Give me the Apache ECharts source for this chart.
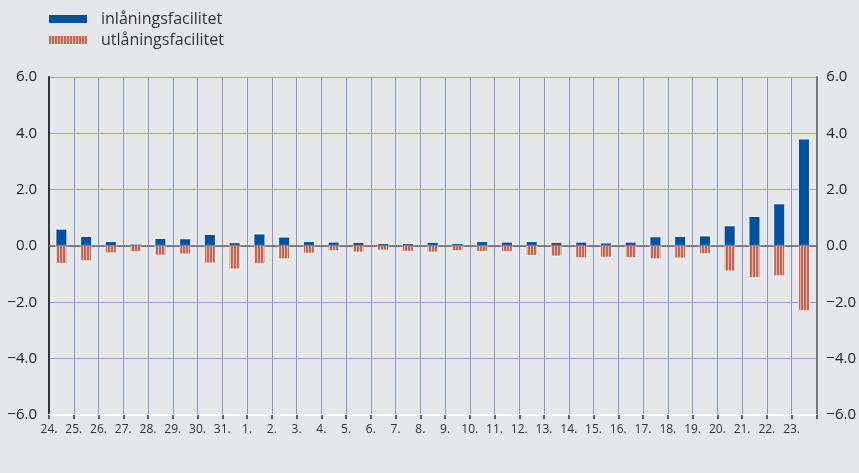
<!DOCTYPE html>
<html><head><meta charset="utf-8">
<script src="https://cdn.jsdelivr.net/npm/echarts@6/dist/echarts.min.js"></script>
<style>html,body{margin:0;padding:0;background:#e6e7e9}#c{width:859px;height:473px}</style>
</head><body><div id="c"></div>
<script>
const categories = ['24.','25.','26.','27.','28.','29.','30.','31.','1.','2.','3.','4.','5.','6.','7.','8.','9.','10.','11.','12.','13.','14.','15.','16.','17.','18.','19.','20.','21.','22.','23.'];
const inlaning = [0.58,0.32,0.14,0.05,0.25,0.24,0.39,0.10,0.41,0.30,0.14,0.12,0.11,0.07,0.07,0.11,0.07,0.14,0.12,0.14,0.11,0.12,0.09,0.12,0.31,0.32,0.34,0.70,1.03,1.48,3.78];
const utlaning = [-0.60,-0.51,-0.23,-0.18,-0.31,-0.27,-0.59,-0.80,-0.61,-0.44,-0.24,-0.15,-0.20,-0.13,-0.17,-0.20,-0.15,-0.18,-0.18,-0.32,-0.34,-0.40,-0.38,-0.39,-0.44,-0.41,-0.26,-0.87,-1.10,-1.04,-2.28];
const seriesNames = ['inlåningsfacilitet','utlåningsfacilitet'];
const yMin = -6, yMax = 6, yStep = 2;

const pc = document.createElement('canvas'); pc.width = 3; pc.height = 4;
const pctx = pc.getContext('2d');
pctx.fillStyle = '#e8b4a3'; pctx.fillRect(0,0,3,4);
pctx.fillStyle = '#c06859'; pctx.fillRect(0,0,2,4);
const stripe = {image: pc, repeat: 'repeat'};

const fmt = v => v.toFixed(1).replace('-', '\u2212');
const font = '"Open Sans", "Liberation Sans", sans-serif';
const chart = echarts.init(document.getElementById('c'));
chart.setOption({
  animation: false,
  backgroundColor: '#e6e7e9',
  textStyle: {fontFamily: font},
  legend: {
    left: 44, top: 6, orient: 'vertical', itemWidth: 38, itemHeight: 8, itemGap: 5,
    icon: 'rect',
    itemStyle: {borderWidth: 0, shadowBlur: 0},
    textStyle: {fontSize: 16, color: '#333', fontFamily: font, padding: [0,0,0,9]},
    data: seriesNames
  },
  grid: {left: 49, right: 42, top: 77, bottom: 58},
  xAxis: [
    {type: 'category', data: categories, position: 'bottom',
     axisLine: {show: true, onZero: true, lineStyle: {color: '#666', width: 1.5}},
     axisTick: {show: false}, axisLabel: {show: false}, splitLine: {show: false}},
    {type: 'category', data: categories.concat(['']), boundaryGap: false, position: 'bottom',
     axisLine: {show: true, onZero: false, lineStyle: {color: '#ffffff', width: 2}},
     axisTick: {show: true, length: 4, lineStyle: {color: '#333', width: 1.5}},
     axisLabel: {show: true, interval: 0, margin: 9, fontSize: 12, color: '#333', fontFamily: font},
     splitLine: {show: true, interval: 0, lineStyle: {color: '#8797cf', width: 1}}}
  ],
  yAxis: [
    {type: 'value', min: yMin, max: yMax, interval: yStep, position: 'left',
     axisLine: {show: true, lineStyle: {color: '#333', width: 2}},
     axisTick: {show: false},
     axisLabel: {formatter: fmt, fontSize: 15, color: '#222', margin: 12},
     splitLine: {show: true, lineStyle: {color: '#99a5d0', width: 1.2}}},
    {type: 'value', min: yMin, max: yMax, interval: yStep, position: 'right',
     axisLine: {show: true, lineStyle: {color: '#777', width: 2}},
     axisTick: {show: false},
     axisLabel: {formatter: fmt, fontSize: 15, color: '#222', margin: 10},
     splitLine: {show: false}}
  ],
  series: [
    {name: seriesNames[0], type: 'bar', data: inlaning, xAxisIndex: 0, yAxisIndex: 0,
     barWidth: 10, barGap: '-100%', z: 5,
     itemStyle: {color: '#0050a0', borderWidth: 0, shadowColor: '#ffffff', shadowBlur: 2}},
    {name: seriesNames[1], type: 'bar', data: utlaning, xAxisIndex: 0, yAxisIndex: 0,
     barWidth: 10, barGap: '-100%', z: 5,
     itemStyle: {color: stripe, borderWidth: 0, shadowColor: '#ffffff', shadowBlur: 2}}
  ]
});
</script></body></html>
